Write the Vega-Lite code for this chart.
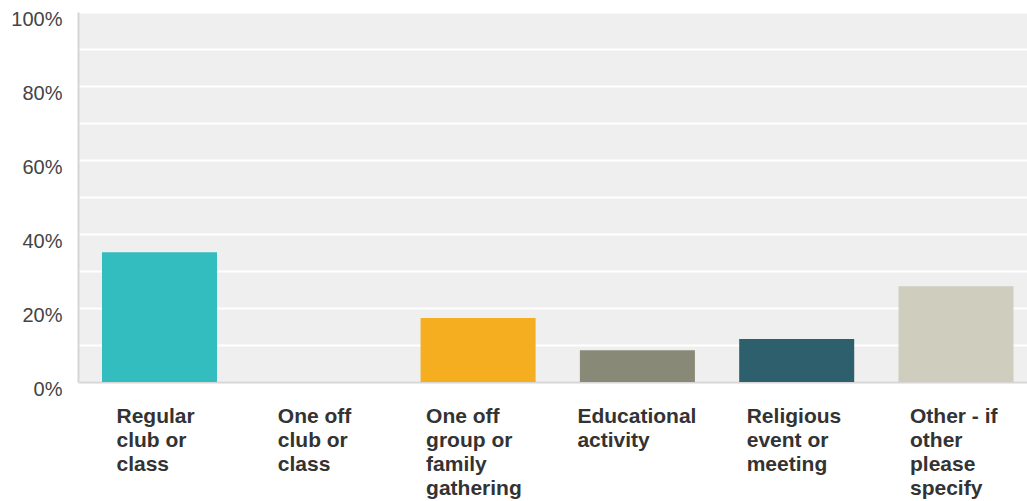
{
  "$schema": "https://vega.github.io/schema/vega-lite/v6.json",
  "width": 949,
  "height": 370,
  "autosize": {"type": "none"},
  "padding": {"left": 78, "top": 12, "right": 0, "bottom": 119},
  "background": "#ffffff",
  "config": {
    "view": {"fill": "#efefef", "stroke": null},
    "font": "Liberation Sans"
  },
  "data": {
    "values": [
      {"category": "Regular club or class", "share": 0.351},
      {"category": "One off club or class", "share": 0.0},
      {"category": "One off group or family gathering", "share": 0.173},
      {"category": "Educational activity", "share": 0.086},
      {"category": "Religious event or meeting", "share": 0.116},
      {"category": "Other - if other please specify", "share": 0.259}
    ]
  },
  "mark": {"type": "bar"},
  "encoding": {
    "x": {
      "field": "category",
      "type": "nominal",
      "sort": null,
      "scale": {"paddingInner": 0.278, "paddingOuter": 0.1176, "align": 0.64},
      "axis": {
        "title": null,
        "labelAngle": 0,
        "ticks": false,
        "domainColor": "#d6d6d6",
        "domainWidth": 2,
        "labelFont": "Liberation Sans",
        "labelFontSize": 21,
        "labelFontWeight": "bold",
        "labelColor": "#333333",
        "labelBaseline": "top",
        "labelAlign": "left",
        "labelPadding": 23,
        "labelLineHeight": 24,
        "labelLimit": 0,
        "labelExpr": "({'Regular club or class': ['Regular', 'club or', 'class'], 'One off club or class': ['One off', 'club or', 'class'], 'One off group or family gathering': ['One off', 'group or', 'family', 'gathering'], 'Educational activity': ['Educational', 'activity'], 'Religious event or meeting': ['Religious', 'event or', 'meeting'], 'Other - if other please specify': ['Other - if', 'other', 'please', 'specify']})[datum.value]",
        "labelOffset": {
          "condition": [
            {"test": "datum.value === 'Regular club or class'", "value": -43},
            {"test": "datum.value === 'One off club or class'", "value": -41},
            {"test": "datum.value === 'One off group or family gathering'", "value": -52},
            {"test": "datum.value === 'Educational activity'", "value": -60},
            {"test": "datum.value === 'Religious event or meeting'", "value": -50}
          ],
          "value": -46
        }
      }
    },
    "y": {
      "field": "share",
      "type": "quantitative",
      "scale": {"domain": [0, 1], "nice": false},
      "axis": {
        "title": null,
        "values": [0, 0.1, 0.2, 0.3, 0.4, 0.5, 0.6, 0.7, 0.8, 0.9, 1],
        "labelExpr": "round(datum.value * 10) % 2 === 0 ? format(datum.value, '.0%') : ''",
        "ticks": false,
        "grid": true,
        "gridColor": "#ffffff",
        "gridWidth": 2,
        "domainColor": "#d6d6d6",
        "domainWidth": 2,
        "labelFont": "Liberation Sans",
        "labelFontSize": 20,
        "labelColor": "#444444",
        "labelPadding": 16,
        "labelOffset": 7
      }
    },
    "color": {
      "field": "category",
      "type": "nominal",
      "sort": null,
      "legend": null,
      "scale": {
        "domain": ["Regular club or class", "One off club or class", "One off group or family gathering", "Educational activity", "Religious event or meeting", "Other - if other please specify"],
        "range": ["#33bdbf", "#8fb3c7", "#f6ae21", "#888977", "#2d5f6c", "#cfcdbe"]
      }
    }
  }
}
